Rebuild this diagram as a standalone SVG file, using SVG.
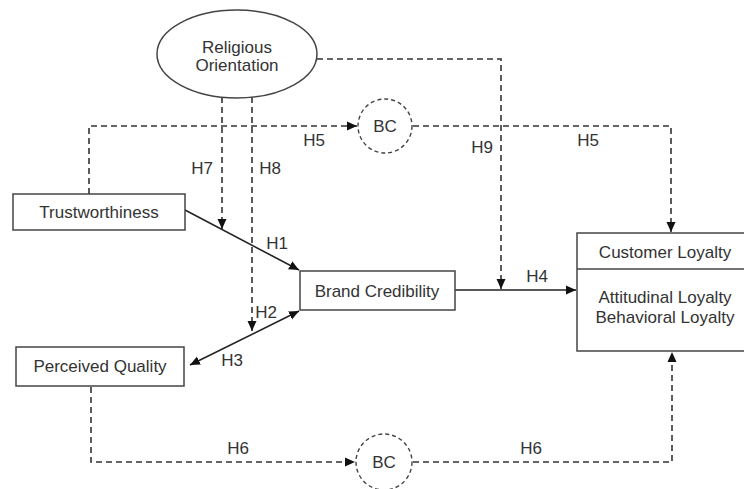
<svg xmlns="http://www.w3.org/2000/svg" width="744" height="489" viewBox="0 0 744 489">
<style>
  .box { fill: #fff; stroke: #444; stroke-width: 1.5; }
  .lbl { font-family: "Liberation Sans", Arial, sans-serif; font-size: 17px; fill: #333; text-anchor: middle; }
  .solid { fill: none; stroke: #222; stroke-width: 1.6; }
  .dash { fill: none; stroke: #333; stroke-width: 1.6; stroke-dasharray: 6 4; }
  .bc { fill: #fff; stroke: #444; stroke-width: 1.4; stroke-dasharray: 4 3; }
</style>
<defs>
  <marker id="arr" viewBox="0 0 10 10" refX="10" refY="5" markerWidth="10" markerHeight="10" markerUnits="userSpaceOnUse" orient="auto">
    <path d="M0,0.5 L10,5 L0,9.5 Z" fill="#111"/>
  </marker>
  <marker id="arrStart" viewBox="0 0 10 10" refX="0" refY="5" markerWidth="10" markerHeight="10" markerUnits="userSpaceOnUse" orient="auto">
    <path d="M10,0.5 L0,5 L10,9.5 Z" fill="#111"/>
  </marker>
</defs>
<rect width="744" height="489" fill="#fff"/>

<g id="connectors">
  <path class="dash" d="M317,59 H501 V289" marker-end="url(#arr)"/>
  <path class="dash" d="M222,97 V229" marker-end="url(#arr)"/>
  <path class="dash" d="M252,97 V331" marker-end="url(#arr)"/>
  <path class="dash" d="M89,194 V126 H357" marker-end="url(#arr)"/>
  <path class="dash" d="M413,126 H671 V232" marker-end="url(#arr)"/>
  <path class="solid" d="M185,210 L299,270" marker-end="url(#arr)"/>
  <path class="solid" d="M190,365 L299,311" marker-start="url(#arrStart)" marker-end="url(#arr)"/>
  <path class="solid" d="M455,290 H576" marker-end="url(#arr)"/>
  <path class="dash" d="M91,387 V462 H355" marker-end="url(#arr)"/>
  <path class="dash" d="M413,462 H672 V352" marker-end="url(#arr)"/>
  <text class="lbl" x="277" y="249">H1</text>
  <text class="lbl" x="266" y="318">H2</text>
  <text class="lbl" x="232" y="366">H3</text>
  <text class="lbl" x="537" y="282">H4</text>
  <text class="lbl" x="314" y="146">H5</text>
  <text class="lbl" x="588" y="146">H5</text>
  <text class="lbl" x="238" y="454">H6</text>
  <text class="lbl" x="531" y="454">H6</text>
  <text class="lbl" x="202" y="174">H7</text>
  <text class="lbl" x="270" y="174">H8</text>
  <text class="lbl" x="482" y="153">H9</text>
</g>

<g id="religious-orientation">
  <ellipse class="box" cx="237" cy="54" rx="80" ry="44"/>
  <text class="lbl" x="237" y="53">Religious</text>
  <text class="lbl" x="237" y="71">Orientation</text>
</g>

<g id="bc-top">
  <circle class="bc" cx="385" cy="126" r="27"/>
  <text class="lbl" x="385" y="132">BC</text>
</g>

<g id="bc-bottom">
  <circle class="bc" cx="384" cy="462" r="28"/>
  <text class="lbl" x="384" y="468">BC</text>
</g>

<g id="trustworthiness">
  <rect class="box" x="13" y="194" width="172" height="36"/>
  <text class="lbl" x="99" y="218">Trustworthiness</text>
</g>

<g id="perceived-quality">
  <rect class="box" x="16" y="347" width="168" height="39"/>
  <text class="lbl" x="100" y="372">Perceived Quality</text>
</g>

<g id="brand-credibility">
  <rect class="box" x="300" y="271" width="155" height="39"/>
  <text class="lbl" x="377" y="297">Brand Credibility</text>
</g>

<g id="customer-loyalty">
  <rect class="box" x="577" y="233" width="176" height="118"/>
  <line x1="577" y1="269" x2="753" y2="269" stroke="#444" stroke-width="1.5"/>
  <text class="lbl" x="665" y="258">Customer Loyalty</text>
  <text class="lbl" x="665" y="303">Attitudinal Loyalty</text>
  <text class="lbl" x="665" y="323">Behavioral Loyalty</text>
</g>
</svg>
